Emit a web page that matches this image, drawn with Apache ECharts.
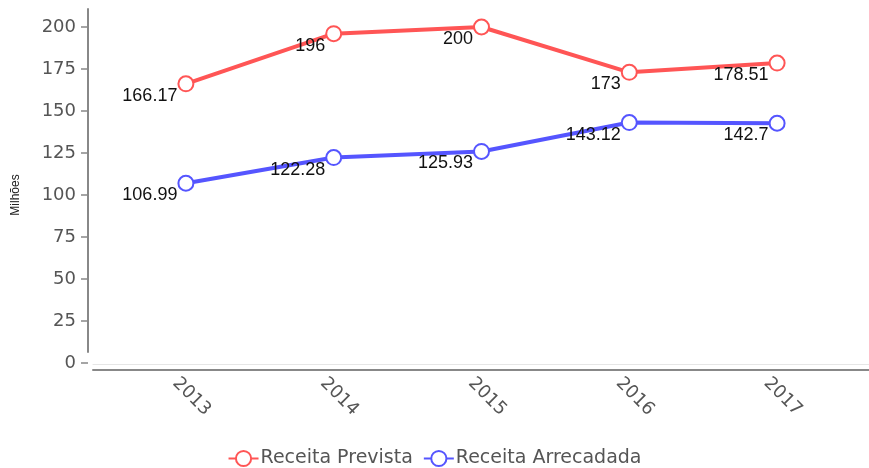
<!DOCTYPE html>
<html>
<head>
<meta charset="utf-8">
<script src="https://cdn.jsdelivr.net/npm/echarts@6/dist/echarts.min.js"></script>
<style>
  html, body { margin: 0; padding: 0; background: #fff; }
  #chart { width: 869px; height: 468px; }
</style>
</head>
<body>
<div id="chart"></div>
<script>
var anos = ["2013", "2014", "2015", "2016", "2017"];
var receitaPrevista = [166.17, 196, 200, 173, 178.51];
var receitaArrecadada = [106.99, 122.28, 125.93, 143.12, 142.7];
var nomes = ["Receita Prevista", "Receita Arrecadada"];
var cores = ["#ff5555", "#5555ff"];

var myChart = echarts.init(document.getElementById("chart"));

function serie(nome, dados, cor) {
  return {
    name: nome,
    type: "line",
    data: dados,
    symbol: "emptyCircle",
    symbolSize: 15,
    color: cor,
    lineStyle: { width: 4, color: cor },
    itemStyle: { color: cor, borderWidth: 3 },
    label: {
      show: true,
      position: "left",
      distance: 0,
      offset: [0, 12],
      color: "#111",
      fontSize: 18,
      fontFamily: "Liberation Sans"
    },
    z: 5
  };
}

// linhas de eixo decorativas (grid 1 e 2) sem dados
function eixoVazio(grid, extra) {
  return Object.assign({
    type: "value",
    gridIndex: grid,
    min: 0,
    max: 1,
    axisLine: { show: false },
    axisTick: { show: false },
    axisLabel: { show: false },
    splitLine: { show: false }
  }, extra || {});
}

var option = {
  animation: false,
  textStyle: { fontFamily: "DejaVu Sans" },
  legend: {
    top: 444,
    left: "center",
    itemGap: 10,
    itemWidth: 30,
    itemHeight: 19,
    textStyle: { color: "#555", fontSize: 19, fontFamily: "DejaVu Sans", padding: [0, 0, 0, -3] },
    data: nomes
  },
  grid: [
    { left: 112, right: 18, top: 27, bottom: 105 },
    { left: 93, right: 0, top: 27, bottom: 104 },
    { left: 88, right: 0, top: 9, bottom: 116 }
  ],
  xAxis: [
    {
      type: "category",
      gridIndex: 0,
      data: anos,
      offset: 7,
      axisLine: { show: false },
      axisTick: { show: false },
      axisLabel: {
        rotate: -45,
        align: "center",
        margin: 21,
        padding: [0, 0, 0, 16],
        color: "#555",
        fontSize: 18,
        fontFamily: "DejaVu Sans"
      }
    },
    eixoVazio(1, { axisLine: { show: true, lineStyle: { color: "#e6e6e6", width: 1 } } }),
    eixoVazio(1, { position: "bottom", offset: 6, axisLine: { show: true, lineStyle: { color: "#888", width: 2 } } }),
    eixoVazio(2)
  ],
  yAxis: [
    {
      type: "value",
      gridIndex: 0,
      min: 0,
      max: 200,
      interval: 25,
      offset: 24,
      name: "Milhões",
      nameLocation: "middle",
      nameGap: 66,
      nameTextStyle: { color: "#222", fontSize: 12, fontFamily: "Liberation Sans" },
      axisLine: { show: false },
      axisTick: { show: true, length: 7, lineStyle: { color: "#888", width: 1.5 } },
      axisLabel: { color: "#555", fontSize: 18, margin: 12, fontFamily: "DejaVu Sans" },
      splitLine: { show: false }
    },
    eixoVazio(1),
    eixoVazio(2, { axisLine: { show: true, lineStyle: { color: "#888", width: 2 } } })
  ],
  series: [
    serie(nomes[0], receitaPrevista, cores[0]),
    serie(nomes[1], receitaArrecadada, cores[1])
  ]
};

option && myChart.setOption(option);
</script>
</body>
</html>
